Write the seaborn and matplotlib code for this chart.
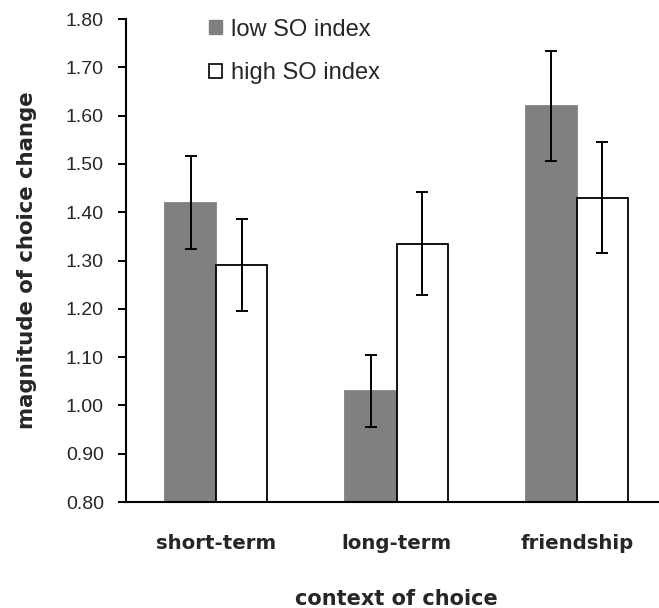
import matplotlib
matplotlib.use("Agg")
import matplotlib.pyplot as plt
from matplotlib.patches import Patch
import seaborn as sns
import pandas as pd

contexts = ["short-term", "long-term", "friendship"]
groups = ["low SO index", "high SO index"]
low_means = [1.42, 1.03, 1.62]
low_errs = [0.097, 0.074, 0.113]
high_means = [1.29, 1.335, 1.43]
high_errs = [0.095, 0.107, 0.115]
y_ticks = [0.80, 0.90, 1.00, 1.10, 1.20, 1.30, 1.40, 1.50, 1.60, 1.70, 1.80]

df = pd.DataFrame({
    "context": contexts * 2,
    "group": [groups[0]] * 3 + [groups[1]] * 3,
    "value": low_means + high_means,
})

sns.set_theme(style="white")
plt.rcParams["font.family"] = ["Liberation Sans", "DejaVu Sans"]

fig = plt.figure(figsize=(6.59, 6.08), dpi=100)
ax = fig.add_axes([0.1912, 0.1743, 0.821, 0.7944])

palette = {groups[0]: "#808080", groups[1]: "#ffffff"}
sns.barplot(data=df, x="context", y="value", hue="group", order=contexts,
            hue_order=groups, palette=palette, width=0.566, gap=0,
            errorbar=None, saturation=1, legend=False, ax=ax)

edge_colors = ["#808080", "black"]
for cont, ec, means, errs in zip(ax.containers, edge_colors,
                                 [low_means, high_means], [low_errs, high_errs]):
    for bar in cont:
        bar.set_edgecolor(ec)
        bar.set_linewidth(1.3)
        bar.set_zorder(2)
    xs = [b.get_x() + b.get_width() / 2 for b in cont]
    ax.errorbar(xs, means, yerr=errs, fmt="none", ecolor="black",
                elinewidth=1.4, capsize=4.3, capthick=1.4, zorder=3)

ax.set_ylim(0.80, 1.80)
ax.set_xlim(-0.5, 2.5)
ax.set_yticks(y_ticks)
ax.set_yticklabels([f"{t:.2f}" for t in y_ticks], fontsize=14,
                   family=["Liberation Sans"])
ax.tick_params(axis="y", which="major", left=True, length=6, width=1.4,
               pad=10, color="black")
ax.tick_params(axis="x", bottom=False, pad=17)
for lab in ax.get_xticklabels():
    lab.set_family(["DejaVu Sans"])
    lab.set_fontweight("bold")
    lab.set_fontsize(14.2)

sns.despine(ax=ax, top=True, right=True)
for side in ["left", "bottom"]:
    ax.spines[side].set_color("black")
    ax.spines[side].set_linewidth(1.5)

ax.set_xlabel("context of choice", family=["DejaVu Sans"], fontweight="bold",
              fontsize=15, va="top")
ax.set_ylabel("magnitude of choice change", family=["DejaVu Sans"],
              fontweight="bold", fontsize=15.3)
ax.xaxis.set_label_coords(0.5, -0.180)
ax.yaxis.set_label_coords(-0.165, 0.5)

handles = [Patch(facecolor="#808080", edgecolor="#808080", linewidth=1),
           Patch(facecolor="white", edgecolor="black", linewidth=1.2)]
fig.legend(handles=handles, labels=groups, loc="upper left",
           bbox_to_anchor=(209 / 659, 1 - 18.5 / 608), frameon=False,
           prop={"family": "Liberation Sans", "size": 17},
           handlelength=0.55, handleheight=0.55, handletextpad=0.38,
           labelspacing=0.92, borderpad=0, borderaxespad=0)

fig.savefig("out.png", dpi=100)
